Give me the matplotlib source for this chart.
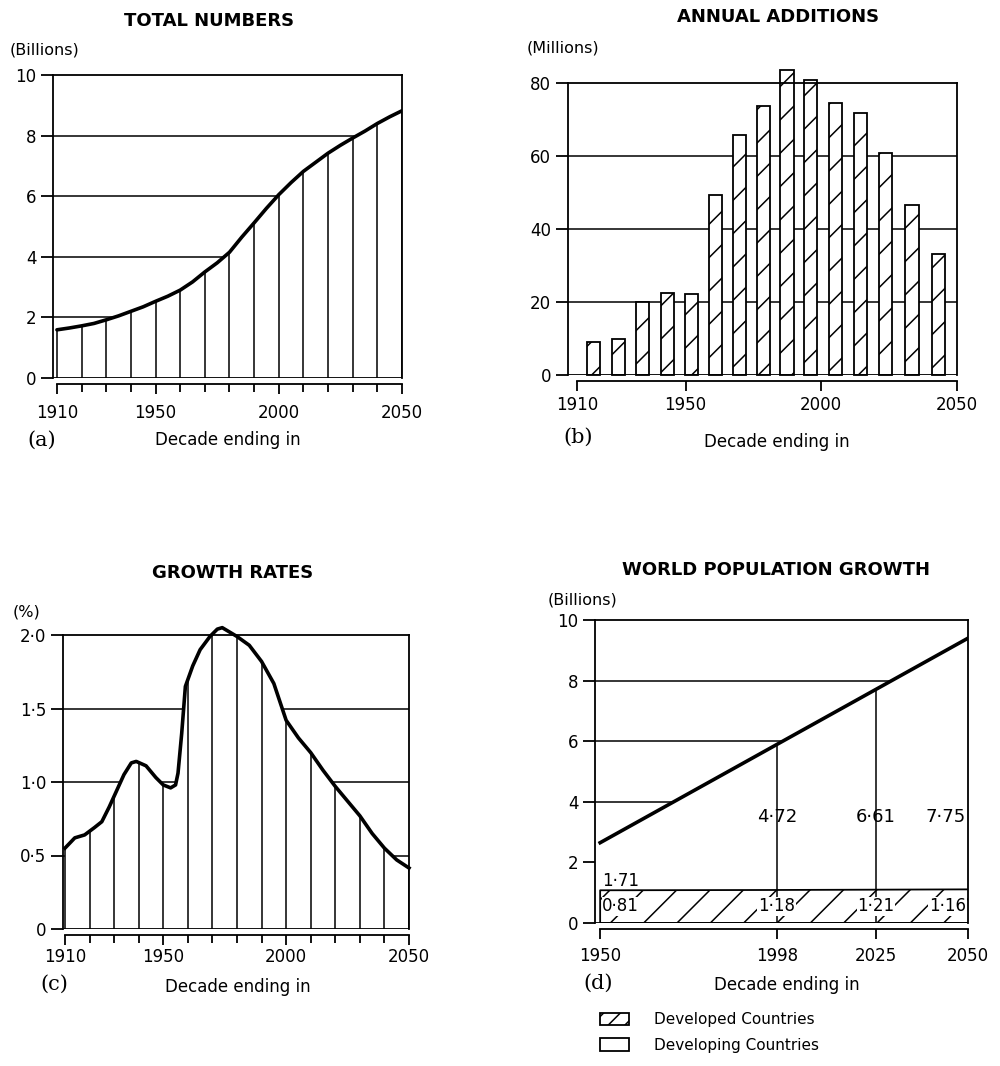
import numpy as np
import matplotlib.pyplot as plt
from matplotlib.patches import Patch

plt.rcParams['font.family'] = ['DejaVu Sans']
plt.rcParams['hatch.linewidth'] = 1.1
plt.rcParams['hatch.color'] = 'black'

# (a) total numbers, billions
years_a = [1910, 1915, 1920, 1925, 1930, 1935, 1940, 1945, 1950, 1955, 1960, 1965, 1970, 1975,
           1980, 1985, 1990, 1995, 2000, 2005, 2010, 2015, 2020, 2025, 2030, 2035, 2040, 2045, 2050]
total_a = [1.59, 1.65, 1.72, 1.80, 1.92, 2.05, 2.20, 2.35, 2.53, 2.70, 2.90, 3.17, 3.50, 3.80,
           4.15, 4.65, 5.12, 5.60, 6.05, 6.45, 6.82, 7.12, 7.42, 7.68, 7.92, 8.15, 8.40, 8.62, 8.82]
decades = list(range(1910, 2051, 10))

# (b) annual additions, millions
bar_years = [1916.1, 1925.2, 1934.2, 1943.4, 1952.2, 1961.0, 1969.9, 1978.6,
             1987.4, 1996.1, 2005.2, 2014.4, 2023.6, 2033.4, 2043.2]
additions = [9.0, 9.9, 19.9, 22.6, 22.2, 49.4, 65.8, 73.8, 83.6, 80.9, 74.5, 71.8, 60.8, 46.6, 33.1]

# (c) growth rates, %
years_c = [1910, 1914, 1918, 1922, 1925, 1928, 1931, 1934, 1937, 1939, 1943, 1947, 1950, 1953,
           1955, 1956, 1957.5, 1959, 1962, 1965, 1969, 1972, 1974, 1977, 1980, 1985, 1990, 1995,
           2000, 2005, 2010, 2015, 2020, 2025, 2030, 2035, 2040, 2045, 2050]
rate_c = [0.55, 0.62, 0.64, 0.69, 0.73, 0.83, 0.94, 1.05, 1.13, 1.14, 1.11, 1.03, 0.98, 0.96,
          0.98, 1.06, 1.33, 1.65, 1.79, 1.90, 1.99, 2.04, 2.05, 2.02, 1.99, 1.93, 1.82, 1.67,
          1.42, 1.30, 1.20, 1.08, 0.97, 0.87, 0.77, 0.65, 0.55, 0.47, 0.415]

# (d) world population growth, billions
years_d = [1950, 1998, 2025, 2050]
line_years_d = [1950, 2050]
line_total_d = [2.65, 9.4]
developed = ['0·81', '1·18', '1·21', '1·16']
developing = ['1·71', '4·72', '6·61', '7·75']
band_d = [1.08, 1.09, 1.10, 1.11]

W, H = 1000, 1066
fig = plt.figure(figsize=(10, 10.66), dpi=100)


def fx(x):
    return x / W


def fy(y):
    return 1 - y / H


def add_text(x, y, s, **kw):
    fig.text(fx(x), fy(y), s, va='center', **kw)


def style(ax, xlo, xpad):
    for s in ax.spines.values():
        s.set_linewidth(1.3)
    ax.spines['bottom'].set_position(('outward', 4))
    ax.spines['bottom'].set_bounds(xlo, ax.get_xlim()[1])
    ax.axhline(0, color='black', lw=1.3, zorder=3)
    ax.tick_params(axis='x', which='both', direction='out', width=1.3, pad=xpad, labelsize=12)
    ax.tick_params(axis='x', which='major', length=7)
    ax.tick_params(axis='x', which='minor', length=6)
    ax.tick_params(axis='y', direction='out', length=9, width=1.3, pad=3, labelsize=12)


def labels(title, tx, ty, unit, ux, uy, tag, gx, gy, dx, dy):
    add_text(tx, ty, title, ha='center', fontsize=13, fontweight='bold')
    add_text(ux, uy, unit, ha='left', fontsize=11.5)
    add_text(gx, gy, tag, ha='left', fontsize=15, family='DejaVu Serif')
    add_text(dx, dy, 'Decade ending in', ha='center', fontsize=12)


# ---- (a)
ax = fig.add_axes([fx(53), fy(378), 0.349, (378 - 75) / H])
ax.set_xlim(1908.4, 2050)
ax.set_ylim(0, 10)
for lv in [2, 4, 6, 8]:
    ax.axhline(lv, color='black', lw=1.1, zorder=1)
ax.fill_between(years_a, 0, total_a, color='white', zorder=2)
ax.vlines(decades, 0, np.interp(decades, years_a, total_a), color='black', lw=1.1, zorder=3)
ax.plot(years_a, total_a, color='black', lw=2.6, zorder=4, solid_capstyle='round')
ax.set_xticks([1910, 1950, 2000, 2050])
ax.set_xticks(decades, minor=True)
ax.set_yticks([0, 2, 4, 6, 8, 10])
style(ax, 1910, 8)
labels('TOTAL NUMBERS', 209, 21, '(Billions)', 10, 50, '(a)', 27, 440, 228, 440)

# ---- (b)
ax = fig.add_axes([fx(568), fy(375), 0.389, (375 - 83) / H])
ax.set_xlim(1906.7, 2050)
ax.set_ylim(0, 80)
for lv in [20, 40, 60]:
    ax.axhline(lv, color='black', lw=1.1, zorder=1)
ax.bar(bar_years, additions, width=4.9, facecolor='white', edgecolor='black', lw=1.3,
       hatch='/', zorder=2, clip_on=False)
ax.set_xticks([1910, 1950, 2000, 2050])
ax.set_yticks([0, 20, 40, 60, 80])
style(ax, 1910, 4)
labels('ANNUAL ADDITIONS', 778, 17, '(Millions)', 527, 48, '(b)', 563, 437, 777, 442)

# ---- (c)
ax = fig.add_axes([fx(63), fy(929), 0.346, (929 - 635) / H])
ax.set_xlim(1909.2, 2050)
ax.set_ylim(0, 2)
for lv in [0.5, 1.0, 1.5]:
    ax.axhline(lv, color='black', lw=1.1, zorder=1)
ax.fill_between(years_c, 0, rate_c, color='white', zorder=2)
ax.vlines(decades, 0, np.interp(decades, years_c, rate_c), color='black', lw=1.1, zorder=3)
ax.plot(years_c, rate_c, color='black', lw=2.6, zorder=4, clip_on=False, solid_joinstyle='round')
ax.set_xticks([1910, 1950, 2000, 2050])
ax.set_xticks(decades, minor=True)
ax.set_yticks([0, 0.5, 1.0, 1.5, 2.0])
ax.set_yticklabels(['0', '0·5', '1·0', '1·5', '2·0'])
style(ax, 1910, 3)
labels('GROWTH RATES', 233, 573, '(%)', 13, 612, '(c)', 40, 984, 238, 987)

# ---- (d)
ax = fig.add_axes([fx(595), fy(923), 0.373, (923 - 620) / H])
ax.set_xlim(1948.6, 2050)
ax.set_ylim(0, 10)
for lv in [4, 6, 8]:
    ax.axhline(lv, color='black', lw=1.1, zorder=1)
ax.fill_between(line_years_d, 0, line_total_d, color='white', zorder=2)
ax.fill_between(years_d, 0, band_d, facecolor='white', edgecolor='black', hatch='/', lw=1.3, zorder=3)
tops = np.interp(years_d[1:3], line_years_d, line_total_d)
ax.vlines(years_d[1:3], 0, tops, color='black', lw=1.1, zorder=4)
ax.plot(line_years_d, line_total_d, color='black', lw=2.6, zorder=5)
box = dict(facecolor='white', edgecolor='none', pad=0.6)
for i, (yr, dv, dg) in enumerate(zip(years_d, developed, developing)):
    ha = 'left' if i == 0 else ('right' if i == 3 else 'center')
    xt = yr + 0.6 if i == 0 else (yr - 0.6 if i == 3 else yr)
    ax.text(xt, 0.55, dv, ha=ha, va='center', fontsize=12, bbox=box, zorder=6)
    if i == 0:
        ax.text(xt, 1.4, dg, ha=ha, va='center', fontsize=12, zorder=6)
    else:
        ax.text(xt, 3.5, dg, ha=ha, va='center', fontsize=13, zorder=6)
ax.set_xticks(years_d)
ax.set_yticks([0, 2, 4, 6, 8, 10])
style(ax, 1950, 6)
labels('WORLD POPULATION GROWTH', 776, 570, '(Billions)', 548, 600, '(d)', 583, 983, 787, 985)

handles = [Patch(facecolor='white', edgecolor='black', hatch='//', lw=1.3),
           Patch(facecolor='white', edgecolor='black', lw=1.3)]
fig.legend(handles, ['Developed Countries', 'Developing Countries'], loc='upper left',
           bbox_to_anchor=(fx(597), fy(1009)), frameon=False, fontsize=11,
           handlelength=1.9, handleheight=0.85, handletextpad=1.6, labelspacing=0.7,
           borderpad=0.2, borderaxespad=0)

fig.savefig('out.png', dpi=100)
